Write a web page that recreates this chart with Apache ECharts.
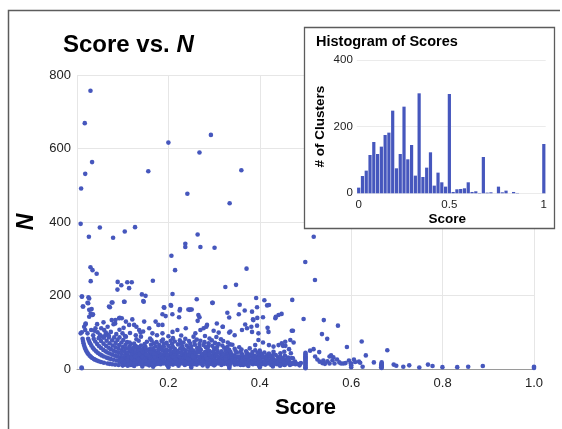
<!DOCTYPE html>
<html><head><meta charset="utf-8">
<script src="https://cdn.jsdelivr.net/npm/echarts/dist/echarts.min.js"></script>
<style>html,body{margin:0;padding:0;background:#fff}#c{width:562px;height:429px}</style>
</head><body><div id="c"></div>
<script>
// ---------- DATA ----------
const xTickValues = [0.2, 0.4, 0.6, 0.8, 1.0];
const yTickValues = [0, 200, 400, 600, 800];

// sparse / high-N points [score, N]
const outlierPts = [
[0.0295,757],[0.017,669],[0.033,563],[0.018,531],[0.009,491],[0.156,538],[0.2,616],[0.2415,477],[0.268,589],[0.293,637],[0.334,451],[0.3596,541],
[0.008,395],[0.026,360],[0.05,385],[0.079,357],[0.1045,374],[0.127,386],
[0.0295,277],[0.034,269],[0.043,259],[0.03,239],[0.011,197],[0.0127,170],[0.0267,192],[0.0245,179],[0.032,163],[0.035,149],
[0.089,237],[0.097,228],[0.0885,216],[0.11,236],[0.1198,236],[0.114,220],[0.166,240],[0.142,203],[0.15,199],[0.146,183],[0.103,183],[0.076,181],[0.072,168],
[0.2066,308],[0.2146,269],[0.237,341],[0.237,332],[0.264,366],[0.27,332],[0.301,330],
[0.209,204],[0.206,172],[0.191,167],[0.2255,163],[0.2466,161],[0.251,162],[0.262,190],[0.296,180],
[0.3246,223],[0.348,229],[0.371,273],[0.329,153],[0.356,175],[0.367,159],[0.392,193],[0.394,168],[0.41,187],[0.416,173],[0.434,138],[0.441,147],[0.4477,150],[0.471,188],[0.47,104],[0.3945,139],
[0.518,360],[0.4995,291],[0.5207,242],[0.4958,136],[0.54,133],[0.571,118],[0.536,95],[0.5475,82],[0.4725,104],[0.5906,60],[0.623,75],[0.679,51],[0.632,37],
[0.6496,18],[0.6656,11],[0.6656,5],[0.693,12],[0.6986,9],[0.714,6],[0.727,10],[0.749,4],[0.768,12],[0.778,8],[0.7996,5],[0.832,5],[0.856,6],[0.888,8],[1.0,6],[1.0,3],
[0.0105,197],[0.025,195],[0.023,180],[0.0135,170],[0.0267,161],[0.03,151],[0.034,147],[0.0267,142],[0.07,170],[0.0776,181],[0.104,183],[0.145,185],[0.19,168],[0.205,174],[0.2247,159],[0.2437,162],
[0.187,149],[0.194,144],[0.2087,149],[0.2233,141],[0.297,180],[0.248,162],[0.42,174],[0.383,156],[0.354,149],[0.333,140],[0.2656,147],[0.268,141],[0.264,131],[0.386,133],[0.407,141],[0.435,142]
];

// mid-range scattered points (N ~ 85-140)
const midPts = [
[0.019,124],[0.0157,115],[0.018,106],[0.023,97],[0.0105,100],[0.031,106],[0.038,104],[0.0354,92],[0.008,97],[0.0186,122],
[0.053,111],[0.0404,111],[0.045,100],[0.05,93],[0.0594,106],[0.063,99],[0.0667,94],[0.07,90],[0.076,133],[0.0835,124],[0.092,138],[0.098,138],
[0.107,129],[0.121,135],[0.114,120],[0.125,120],[0.136,106],[0.147,129],[0.1447,102],[0.158,111],[0.172,129],[0.178,120],[0.165,97],[0.0995,97],
[0.107,88],[0.1286,92],[0.187,97],[0.209,101],[0.2197,106],[0.238,111],[0.187,120],[0.3187,115],[0.299,104],[0.2845,120],[0.277,111],[0.27,106],
[0.259,97],[0.31,99],[0.3355,102],[0.361,106],[0.383,101],[0.397,97],[0.419,101],[0.4667,79],[0.474,72],[0.4557,74],[0.441,65],[0.4507,63],
[0.43,61],[0.42,65],[0.407,72],[0.397,79],[0.39,65],[0.368,121],[0.3815,115],[0.394,118],[0.417,112],[0.372,111],[0.283,115],[0.306,124],
[0.319,115],[0.333,99],[0.345,92],[0.385,135],[0.08,122],[0.084,133],[0.0936,139],[0.13,115],[0.139,99],[0.0105,2],[0.01,4],
[0.448,70],[0.456,63],[0.464,54],[0.4536,47],[0.468,43],[0.4725,29],[0.477,20],[0.482,14],[0.487,10],[0.49,16],
[0.51,50],[0.5177,54],[0.53,46],[0.521,34],[0.526,26],[0.531,20],[0.537,16],[0.539,23],[0.5425,14],[0.548,21],[0.5526,34],[0.556,37],[0.561,32],
[0.559,24],[0.5526,15],[0.5635,15],[0.569,26],[0.574,18],[0.578,15],[0.583,15],[0.5876,16],[0.595,23],[0.599,15],[0.606,26],[0.6087,19],[0.617,20],[0.6197,17],[0.625,6],
[0.055,88],[0.062,92],[0.074,101],[0.086,95],[0.093,107],[0.067,115],[0.058,127],[0.044,122],[0.102,112],[0.116,98]
];

// hyperbolic arcs near the left edge
const arcPts = [
[0.0122,82],[0.0132,76],[0.0143,70],[0.0156,64],[0.0172,58],[0.0189,53],[0.0208,48],[0.0227,44],[0.025,40],[0.0278,36],[0.0303,33],[0.0333,30],[0.037,27],[0.04,25],[0.0435,23],[0.0476,21],[0.0526,19],[0.0588,17],[0.0667,15],[0.0714,14],[0.0769,13],[0.0833,12],[0.0909,11],[0.1,10],[0.1111,9],[0.125,8],
[0.0244,82],[0.0263,76],[0.0286,70],[0.0313,64],[0.0345,58],[0.0377,53],[0.0417,48],[0.0455,44],[0.05,40],[0.0541,37],[0.0588,34],[0.0645,31],[0.069,29],[0.0741,27],[0.08,25],[0.087,23],[0.0952,21],[0.1,20],[0.1053,19],[0.1111,18],[0.1176,17],[0.125,16],[0.1333,15],[0.1429,14],[0.1538,13],[0.1667,12],
[0.0366,82],[0.04,75],[0.0441,68],[0.0484,62],[0.0526,57],[0.0577,52],[0.0625,48],[0.0667,45],[0.0714,42],[0.0769,39],[0.0833,36],[0.0882,34],[0.0938,32],[0.1,30],[0.1071,28],[0.1154,26],[0.12,25],[0.125,24],[0.1304,23],[0.1364,22],[0.1429,21],[0.15,20],[0.1579,19],[0.1667,18],
[0.0476,84],[0.0526,76],[0.058,69],[0.0635,63],[0.069,58],[0.0741,54],[0.08,50],[0.0851,47],[0.0909,44],[0.0976,41],[0.1053,38],[0.1111,36],[0.1176,34],[0.125,32],[0.1333,30],[0.1429,28],[0.1481,27],[0.1538,26],[0.16,25],[0.1667,24],
[0.0588,85],[0.0649,77],[0.0714,70],[0.0781,64],[0.0847,59],[0.0909,55],[0.098,51],[0.1042,48],[0.1111,45],[0.119,42],[0.125,40],[0.1316,38],[0.1389,36],[0.1471,34],[0.1563,32],[0.1667,30],
[0.0698,86],[0.0769,78],[0.0845,71],[0.0923,65],[0.1,60],[0.1071,56],[0.1154,52],[0.1224,49],[0.1304,46],[0.1395,43],[0.15,40],[0.1579,38],[0.1667,36],
[0.0814,86],[0.0886,79],[0.0972,72],[0.1061,66],[0.1148,61],[0.1228,57],[0.1321,53],[0.14,50],[0.1489,47],[0.1591,44],[0.1667,42],
[0.093,86],[0.1013,79],[0.1096,73],[0.1176,68],[0.127,63],[0.1356,59],[0.1455,55],[0.1538,52],[0.1633,49]
];

// vertical stacks at simple fractions
const spikePts = [
[0.5,2],[0.5,5],[0.5,8],[0.5,11],[0.5,14],[0.5,17],[0.5,20],[0.5,23],[0.5,26],[0.5,29],[0.5,32],[0.5,35],[0.5,38],[0.5,41],[0.5,44],
[0.3333,3],[0.3333,6],[0.3333,9],[0.3333,12],[0.3333,15],[0.3333,18],[0.3333,21],[0.3333,24],[0.3333,27],[0.3333,30],[0.3333,33],[0.3333,36],[0.3333,39],[0.3333,42],[0.3333,45],[0.3333,48],
[0.25,4],[0.25,8],[0.25,12],[0.25,16],[0.25,20],[0.25,24],[0.25,28],[0.25,32],[0.25,36],[0.25,40],[0.25,44],[0.25,48],[0.25,52],
[0.2,5],[0.2,10],[0.2,15],[0.2,20],[0.2,25],[0.2,30],[0.2,35],
[0.4,5],[0.4,10],[0.4,15],[0.4,20],[0.4,25],[0.4,30],[0.4,35],[0.4,40],[0.4,45],
[0.1667,6],[0.1667,12],[0.1667,18],[0.1667,24],[0.1667,30],[0.1667,36],
[0.2857,7],[0.2857,14],[0.2857,21],[0.2857,28],[0.2857,35],[0.2857,42],
[0.375,8],[0.375,16],[0.375,24],[0.375,32],[0.375,40],
[0.4286,7],[0.4286,14],[0.4286,21],[0.4286,28],
[0.3,10],[0.3,20],[0.3,30],[0.3,40],
[0.4444,9],[0.4444,18],[0.4444,27],[0.4545,11],[0.4545,22],
[0.6667,3],[0.6667,6],[0.6667,9],[0.6667,12],[0.6667,15],[0.6667,18],
[0.6,5],[0.6,10],[0.6,15],
[0.1429,7],[0.1429,14],[0.1429,21],[0.1429,28],[0.1429,35],
[0.2222,9],[0.2222,18],[0.2222,27],[0.1,10],[0.1,20],[0.1,30],[0.3636,11],[0.3636,22],[0.3636,33]
];

// dense band of low-N clusters
const densePts = [
[0.105,12],[0.118,11],[0.131,13],[0.144,12],[0.158,10],[0.171,12],[0.183,13],[0.197,11],[0.21,12],[0.223,13],[0.236,11],[0.262,12],[0.275,10],[0.289,13],[0.302,12],[0.316,11],[0.329,13],[0.345,12],[0.358,11],[0.371,12],[0.385,13],[0.398,10],[0.412,12],[0.425,11],[0.438,13],[0.452,12],[0.466,11],[0.478,13],
[0.098,17],[0.111,18],[0.124,16],[0.137,17],[0.15,19],[0.164,16],[0.177,18],[0.19,17],[0.204,16],[0.217,18],[0.23,17],[0.243,19],[0.256,16],[0.27,18],[0.283,17],[0.296,16],[0.31,18],[0.323,17],[0.338,19],[0.351,16],[0.364,17],[0.378,18],[0.391,16],[0.405,17],[0.418,19],[0.431,16],[0.445,18],[0.458,17],[0.472,16],
[0.092,22],[0.104,23],[0.117,21],[0.13,22],[0.143,24],[0.156,21],[0.169,23],[0.182,22],[0.195,21],[0.21,23],[0.224,22],[0.238,24],[0.252,21],[0.266,22],[0.279,23],[0.292,21],[0.305,22],[0.318,24],[0.34,22],[0.354,21],[0.367,23],[0.381,22],[0.395,24],[0.41,21],[0.424,22],[0.437,23],[0.45,21],[0.463,22],
[0.108,27],[0.121,28],[0.134,26],[0.147,27],[0.16,29],[0.173,26],[0.187,28],[0.2,27],[0.213,26],[0.227,28],[0.24,27],[0.256,29],[0.27,26],[0.284,28],[0.297,27],[0.31,26],[0.323,28],[0.343,27],[0.357,29],[0.37,26],[0.384,27],[0.398,28],[0.413,26],[0.428,28],[0.443,27],[0.458,26],
[0.113,32],[0.127,33],[0.14,31],[0.153,33],[0.166,32],[0.18,31],[0.194,33],[0.207,32],[0.221,34],[0.235,31],[0.248,32],[0.261,33],[0.276,31],[0.29,32],[0.304,34],[0.317,31],[0.332,33],[0.346,32],[0.36,31],[0.376,33],[0.392,32],[0.405,31],[0.42,33],[0.44,32],[0.462,31],
[0.12,38],[0.135,37],[0.149,39],[0.163,38],[0.177,36],[0.19,39],[0.204,38],[0.218,37],[0.232,39],[0.246,36],[0.259,38],[0.273,37],[0.287,39],[0.301,38],[0.316,36],[0.33,38],[0.345,37],[0.362,39],[0.38,38],[0.398,36],[0.416,37],[0.435,38],[0.455,36],
[0.128,44],[0.145,45],[0.16,43],[0.176,44],[0.191,46],[0.206,43],[0.222,45],[0.237,44],[0.252,43],[0.268,46],[0.283,44],[0.298,45],[0.313,43],[0.328,44],[0.35,45],[0.372,43],[0.395,44],[0.42,42],[0.445,43],
[0.135,50],[0.152,51],[0.17,49],[0.186,52],[0.203,50],[0.22,49],[0.238,51],[0.255,50],[0.271,52],[0.29,49],[0.307,51],[0.325,50],[0.347,49],[0.37,48],[0.4,50],[0.43,47],
[0.125,57],[0.148,58],[0.167,56],[0.184,59],[0.205,57],[0.226,56],[0.244,58],[0.263,57],[0.282,59],[0.3,56],[0.322,58],[0.345,55],[0.378,56],
[0.14,64],[0.162,66],[0.18,65],[0.2,63],[0.221,67],[0.24,64],[0.258,66],[0.277,65],[0.296,63],[0.318,64],[0.34,66],
[0.115,72],[0.153,74],[0.174,73],[0.196,71],[0.214,75],[0.233,72],[0.257,74],[0.279,73],[0.302,71],[0.33,72],
[0.13,81],[0.16,83],[0.188,80],[0.21,84],[0.237,82],[0.262,80],[0.29,83],[0.315,81]
];

// second, offset set of rows in the dense band
const densePts2 = [
[0.111,14],[0.124,15],[0.138,14],[0.151,13],[0.164,15],[0.177,14],[0.19,15],[0.204,13],[0.217,14],[0.23,15],[0.243,14],[0.256,13],[0.269,15],[0.283,14],[0.296,13],[0.309,15],[0.322,14],[0.336,15],[0.351,13],[0.365,14],[0.378,15],[0.392,14],[0.405,13],[0.418,15],[0.432,14],[0.445,13],[0.459,15],[0.472,14],
[0.104,20],[0.117,19],[0.13,21],[0.144,20],[0.157,19],[0.17,21],[0.184,20],[0.197,19],[0.211,21],[0.224,20],[0.237,19],[0.25,20],[0.263,21],[0.277,19],[0.29,20],[0.303,21],[0.317,19],[0.331,20],[0.345,21],[0.358,19],[0.371,20],[0.385,21],[0.398,19],[0.411,20],[0.425,21],[0.438,19],[0.451,20],[0.465,19],
[0.098,25],[0.111,24],[0.124,26],[0.137,25],[0.15,24],[0.163,26],[0.176,25],[0.19,24],[0.203,26],[0.217,25],[0.231,24],[0.245,26],[0.259,25],[0.273,24],[0.286,26],[0.299,25],[0.312,24],[0.326,26],[0.347,25],[0.361,24],[0.374,26],[0.388,25],[0.402,24],[0.417,26],[0.431,25],[0.445,24],[0.46,25],
[0.12,30],[0.133,29],[0.146,30],[0.16,31],[0.173,29],[0.187,30],[0.2,31],[0.214,29],[0.228,30],[0.242,29],[0.255,31],[0.268,30],[0.283,29],[0.297,30],[0.31,31],[0.325,29],[0.339,30],[0.353,31],[0.368,29],[0.384,30],[0.398,29],[0.412,31],[0.427,30],[0.45,29],[0.47,30],
[0.127,35],[0.142,34],[0.156,36],[0.17,35],[0.184,34],[0.197,36],[0.211,35],[0.225,34],[0.239,36],[0.253,35],[0.266,34],[0.28,36],[0.294,35],[0.308,34],[0.323,36],[0.338,35],[0.353,34],[0.371,35],[0.389,36],[0.407,34],[0.425,35],[0.445,34],
[0.137,41],[0.153,40],[0.168,42],[0.183,41],[0.198,40],[0.214,42],[0.229,41],[0.244,40],[0.26,42],[0.275,41],[0.29,40],[0.305,42],[0.32,41],[0.338,40],[0.36,41],[0.383,40],[0.405,41],[0.43,40],
[0.143,47],[0.161,48],[0.178,46],[0.195,47],[0.212,48],[0.229,46],[0.246,47],[0.263,48],[0.28,46],[0.298,47],[0.316,48],[0.336,46],[0.358,47],[0.384,46],[0.41,45],
[0.115,54],[0.14,53],[0.16,55],[0.178,54],[0.195,53],[0.214,55],[0.233,54],[0.25,53],[0.268,55],[0.286,54],[0.305,53],[0.333,52],[0.36,53],[0.39,51],
[0.13,61],[0.15,60],[0.172,62],[0.19,61],[0.21,60],[0.23,62],[0.25,61],[0.268,60],[0.287,62],[0.307,61],[0.329,60],[0.355,59],
[0.125,69],[0.148,68],[0.168,70],[0.19,69],[0.208,68],[0.228,70],[0.248,69],[0.268,68],[0.288,70],[0.31,68],[0.335,67],
[0.135,77],[0.163,78],[0.185,76],[0.205,77],[0.225,78],[0.245,76],[0.27,77],[0.295,78],[0.32,76],
[0.105,90],[0.14,88],[0.175,92],[0.2,89],[0.228,91],[0.255,88],[0.28,90],[0.305,87]
];

// histogram
const histBins = ['0.00','0.02','0.04','0.06','0.08','0.10','0.12','0.14','0.16','0.18','0.20','0.22','0.24','0.27','0.29','0.31','0.33','0.35','0.37','0.39','0.41','0.43','0.45','0.47','0.49','0.51','0.53','0.55','0.57','0.59','0.61','0.63','0.65','0.67','0.69','0.71','0.73','0.76','0.78','0.80','0.82','0.84','0.86','0.88','0.90','0.92','0.94','0.96','0.98','1.00'];
const histCounts = [17,52,68,115,154,118,140,175,182,248,75,118,260,102,145,53,300,49,77,123,23,62,33,20,298,4,12,13,15,33,4,6,1,109,2,3,0,20,3,8,0,4,1,0,0,0,0,0,0,148];
const histTickLabels = {0:'0', 24:'0.5', 49:'1'};

// ---------- CHART ----------
const FONT = '"Liberation Sans", Arial, Helvetica, sans-serif';
const DOT = '#4657bd';
const allPts = [].concat(outlierPts, midPts, arcPts, spikePts, densePts, densePts2);
const chart = echarts.init(document.getElementById('c'), null, {renderer:'canvas'});
chart.setOption({
  animation:false,
  backgroundColor:'#fff',
  textStyle:{fontFamily:FONT},
  graphic:[
    {type:'polyline', silent:true, shape:{points:[[8.5,440],[8.5,10.5],[560,10.5]]}, style:{stroke:'#5c5c5c', lineWidth:1.5, fill:null}},
    {type:'rect', silent:true, zlevel:1, z:1, shape:{x:304.5,y:27.5,width:250,height:201}, style:{fill:'#fff', stroke:'#5c5c5c', lineWidth:1.3}}
  ],
  title:[
    {text:'{a|Score vs. }{b|N}', left:58, top:28, textStyle:{rich:{
      a:{fontFamily:FONT,fontSize:24,fontWeight:'bold',color:'#000'},
      b:{fontFamily:FONT,fontSize:24,fontWeight:'bold',fontStyle:'italic',color:'#000'}}}},
    {text:'Histogram of Scores', left:311, top:29, zlevel:1, z:6, textStyle:{fontFamily:FONT,fontSize:14.5,fontWeight:'bold',color:'#000'}}
  ],
  grid:[
    {left:77, top:75, width:457, height:294},
    {left:356.8, top:60, width:188.9, height:133.3, zlevel:1, z:5}
  ],
  xAxis:[
    {type:'value', gridIndex:0, min:0, max:1, interval:0.2,
     axisLine:{show:true, onZero:false, lineStyle:{color:'#9a9a9a', width:1}},
     axisTick:{show:false},
     splitLine:{show:true, lineStyle:{color:'#e6e6e6'}},
     axisLabel:{color:'#222', fontSize:13, margin:8, fontFamily:FONT,
       formatter:v => (xTickValues.some(t => Math.abs(t - v) < 1e-9) ? v.toFixed(1) : '')},
     name:'Score', nameLocation:'middle', nameGap:28,
     nameTextStyle:{fontFamily:FONT, fontSize:22, fontWeight:'bold', color:'#000'}},
    {type:'category', gridIndex:1, data:histBins, zlevel:1, z:6,
     axisLine:{show:false}, axisTick:{show:false}, splitLine:{show:false},
     axisLabel:{interval:0, color:'#222', fontSize:11.5, margin:6, fontFamily:FONT,
       formatter:(v, i) => histTickLabels[i] || ''},
     name:'Score', nameLocation:'middle', nameGap:19,
     nameTextStyle:{fontFamily:FONT, fontSize:13.5, fontWeight:'bold', color:'#000', padding:[0,8,0,0]}}
  ],
  yAxis:[
    {type:'value', gridIndex:0, min:0, max:800, interval:200,
     axisLine:{show:false}, axisTick:{show:false},
     splitLine:{show:true, lineStyle:{color:'#e6e6e6'}},
     axisLabel:{color:'#222', fontSize:13, margin:6, fontFamily:FONT,
       formatter:v => (yTickValues.indexOf(v) >= 0 ? String(v) : '')},
     name:'N', nameLocation:'middle', nameRotate:90, nameGap:38,
     nameTextStyle:{fontFamily:FONT, fontSize:23, fontWeight:'bold', fontStyle:'italic', color:'#000'}},
    {type:'value', gridIndex:1, min:0, max:400, interval:200, zlevel:1, z:6,
     axisLine:{show:false}, axisTick:{show:false},
     splitLine:{show:true, lineStyle:{color:'#ebebeb'}},
     axisLabel:{color:'#222', fontSize:11.5, margin:4, fontFamily:FONT},
     name:'# of Clusters', nameLocation:'middle', nameRotate:90, nameGap:30,
     nameTextStyle:{fontFamily:FONT, fontSize:13.5, fontWeight:'bold', color:'#000'}}
  ],
  series:[
    {type:'scatter', xAxisIndex:0, yAxisIndex:0, data:allPts, symbolSize:4.6, clip:false, silent:true,
     itemStyle:{color:DOT, opacity:1}, z:2},
    {type:'bar', xAxisIndex:1, yAxisIndex:1, data:histCounts, barWidth:'85%', silent:true,
     itemStyle:{color:DOT}, zlevel:1, z:7}
  ]
});
</script>
</body></html>
